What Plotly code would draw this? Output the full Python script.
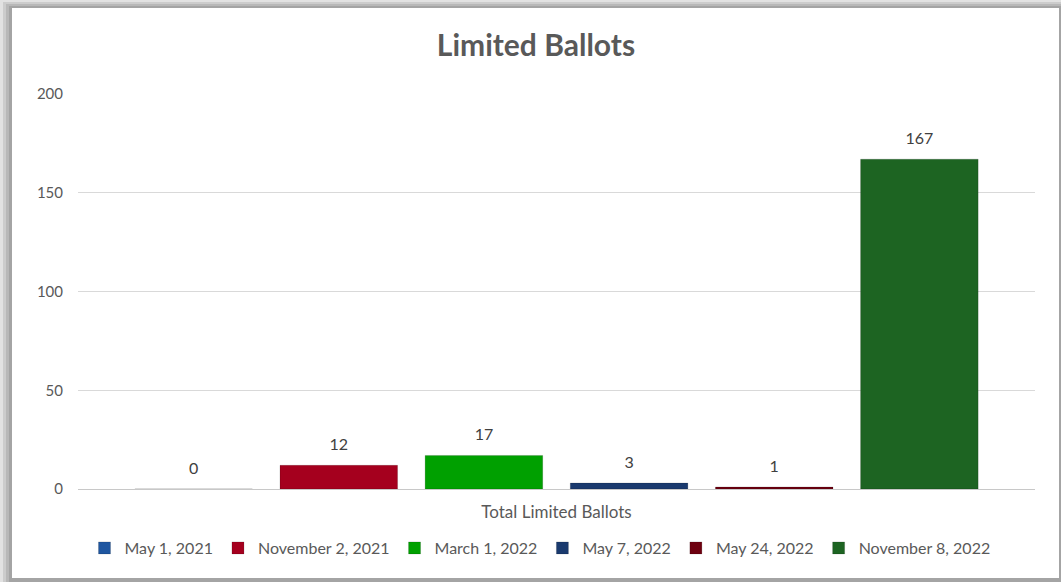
import plotly.graph_objects as go

category = ["Total Limited Ballots"]
series_names = ["May 1, 2021", "November 2, 2021", "March 1, 2022",
                "May 7, 2022", "May 24, 2022", "November 8, 2022"]
series_values = [0, 12, 17, 3, 1, 167]
series_colors = ["#1F56A0", "#A5001E", "#00A000", "#1A3A6E", "#6E0010", "#1D6422"]

W, H = 1061, 582
L, R, T, B = 78, 26, 94, 93
pw, ph = W - L - R, H - T - B

def px_x(p):
    return (p - L) / pw

def px_y(p):
    return (H - B - p) / ph

FONT = "Lato"
TXT = "#595959"
BARGAP = 0.09

fig = go.Figure()
for i, (name, val, col) in enumerate(zip(series_names, series_values, series_colors)):
    fig.add_trace(go.Bar(
        x=category, y=[val], name=name, offsetgroup=str(i),
        marker=dict(color=col, line=dict(color="rgba(0,0,0,0.15)", width=1)),
        hoverinfo="name+y",
    ))
for i, (name, val) in enumerate(zip(series_names, series_values)):
    fig.add_trace(go.Scatter(
        x=category, y=[val], name=name, offsetgroup=str(i),
        mode="markers+text", text=[str(val)], textposition="top center",
        textfont=dict(family=FONT, size=16, color="#404040"),
        marker=dict(size=16, opacity=0), showlegend=False, hoverinfo="skip",
        cliponaxis=False,
    ))

# grey shadowed frame around a white card
frame_steps = [(3, 2, "#cccccc"), (6, 4, "#b8b8b8"), (9, 6, "#a4a4a4")]
shapes = []
for x0p, y0p, col in frame_steps:
    shapes.append(dict(type="rect", xref="paper", yref="paper", layer="below",
                       x0=px_x(x0p), x1=px_x(1061), y0=px_y(582), y1=px_y(y0p),
                       fillcolor=col, line=dict(width=0)))
shapes.append(dict(type="rect", xref="paper", yref="paper", layer="below",
                   x0=px_x(12), x1=px_x(1059), y0=px_y(578), y1=px_y(8),
                   fillcolor="white", line=dict(width=0)))

fig.update_layout(
    width=W, height=H,
    margin=dict(l=L, r=R, t=T, b=B, pad=0, autoexpand=False),
    paper_bgcolor="#e2e2e2",
    plot_bgcolor="rgba(0,0,0,0)",
    shapes=shapes,
    barmode="group",
    bargap=BARGAP,
    bargroupgap=0.19,
    scattermode="group",
    scattergap=BARGAP,
    title=dict(text="<b>Limited Ballots</b>", x=536 / W, xref="container",
               y=1 - 45 / H, yref="container", xanchor="center", yanchor="middle",
               font=dict(family=FONT, size=30, color=TXT)),
    font=dict(family=FONT, color=TXT),
    showlegend=True,
    legend=dict(orientation="h", x=540 / W, xref="container", xanchor="center",
                y=1 - 548 / H, yref="container", yanchor="middle",
                font=dict(family=FONT, size=16, color=TXT),
                itemwidth=30, bgcolor="rgba(0,0,0,0)"),
    yaxis=dict(range=[0, 200], tickvals=[0, 50, 100, 150, 200],
               showgrid=True, gridcolor="#d9d9d9", gridwidth=1,
               zeroline=True, zerolinecolor="#c8c8c8", zerolinewidth=1,
               tickfont=dict(family=FONT, size=15, color=TXT),
               ticklabelstandoff=14, showline=False, automargin=False),
    xaxis=dict(showline=True, linecolor="#c8c8c8", linewidth=1,
               tickfont=dict(family=FONT, size=17, color=TXT),
               ticklabelstandoff=8, automargin=False),
)

fig.write_html("out.html", post_script="document.body.style.margin='0px';",
               config={"displayModeBar": False})
